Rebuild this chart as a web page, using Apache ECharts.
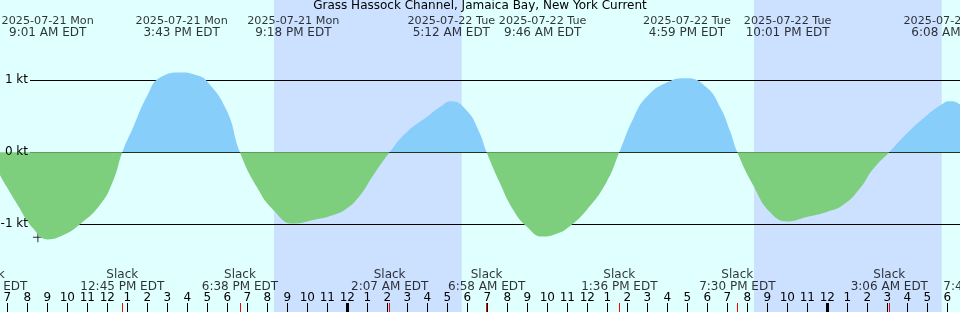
<!DOCTYPE html>
<html><head><meta charset="utf-8">
<script src="https://cdn.jsdelivr.net/npm/echarts@6/dist/echarts.min.js"></script>
<style>html,body{margin:0;padding:0;background:#e0ffff;}#c{width:960px;height:312px;}</style>
</head><body><div id="c"></div>
<script>
// Time in hours since 2025-07-21 00:00 EDT; current in knots (+ flood, - ebb)
const curveHours = [6.07, 6.64, 6.97, 7.47, 8.30, 9.017, 9.80, 10.635, 11.635, 12.30, 12.75, 13.30, 13.97, 14.635, 15.717, 16.47, 16.97, 17.97, 18.633, 19.47, 20.30, 21.30, 22.30, 23.30, 23.97, 24.635, 25.30, 26.117, 26.97, 27.97, 28.635, 29.20, 29.97, 30.60, 30.967, 31.635, 32.30, 32.97, 33.767, 34.47, 34.97, 35.97, 36.97, 37.60, 38.30, 38.97, 39.97, 40.983, 41.97, 42.635, 43.135, 43.50, 44.30, 45.135, 46.017, 46.97, 47.97, 48.80, 49.635, 50.30, 51.10, 51.97, 52.97, 53.635, 54.133, 54.60, 55.20, 55.73];
const curveKnots = [0, -0.32, -0.48, -0.71, -1.06, -1.21, -1.15, -1.00, -0.73, -0.39, 0, 0.35, 0.77, 1.04, 1.11, 1.07, 0.99, 0.58, 0, -0.48, -0.80, -0.99, -0.94, -0.87, -0.78, -0.60, -0.32, 0, 0.28, 0.49, 0.63, 0.71, 0.58, 0.28, 0, -0.43, -0.80, -1.03, -1.17, -1.13, -1.06, -0.80, -0.41, 0, 0.47, 0.77, 0.97, 1.03, 0.90, 0.63, 0.30, 0, -0.46, -0.83, -0.96, -0.90, -0.83, -0.73, -0.50, -0.23, 0, 0.26, 0.51, 0.65, 0.71, 0.67, 0.50, 0];

const eventHours = [9.017, 15.717, 21.3, 29.2, 33.767, 40.983, 46.017, 54.133];
const eventDates = ['2025-07-21 Mon', '2025-07-21 Mon', '2025-07-21 Mon', '2025-07-22 Tue', '2025-07-22 Tue', '2025-07-22 Tue', '2025-07-22 Tue', '2025-07-23 Wed'];
const eventTimes = ['9:01 AM EDT', '3:43 PM EDT', '9:18 PM EDT', '5:12 AM EDT', '9:46 AM EDT', '4:59 PM EDT', '10:01 PM EDT', '6:08 AM EDT'];

const slackHours = [6.07, 12.75, 18.633, 26.117, 30.967, 37.6, 43.5, 51.1, 55.73];
const slackTimes = ['6:04 AM EDT', '12:45 PM EDT', '6:38 PM EDT', '2:07 AM EDT', '6:58 AM EDT', '1:36 PM EDT', '7:30 PM EDT', '3:06 AM EDT', '7:44 AM EDT'];

const nightStart = [20.335, 44.335];
const nightEnd = [29.72, 53.72];
const midnightHours = [24, 48];
const nowHour = [8.53];
const nowKnots = [-1.18];

const FONT = 'DejaVu Sans';
const HOUR_MIN = 6, HOUR_MAX = 55;
const G = {outerBoundsMode: 'none', containLabel: false};

const chart = echarts.init(document.getElementById('c'), null, {renderer: 'canvas'});
chart.setOption({
  animation: false,
  backgroundColor: '#e0ffff',
  title: {
    text: 'Grass Hassock Channel, Jamaica Bay, New York Current',
    left: 'center', top: 0, padding: 0,
    textStyle: {fontFamily: FONT, fontSize: 12, fontWeight: 'normal', color: '#000', lineHeight: 12}
  },
  grid: [
    Object.assign({left: -12.7, top: 0, width: 980, height: 312}, G),
    Object.assign({left: 30, right: 0, top: 80.3, height: 144}, G),
    Object.assign({left: -12.7, top: 303, width: 980, height: 9}, G),
    Object.assign({left: -12.7, top: 80.3, width: 980, height: 144}, G),
    Object.assign({left: 30, right: 0, top: 80.3, height: 144}, G)
  ],
  xAxis: [
    {gridIndex: 0, type: 'value', min: HOUR_MIN, max: HOUR_MAX, show: false},
    {gridIndex: 1, type: 'value', min: 0, max: 1, show: false},
    {gridIndex: 2, type: 'value', min: HOUR_MIN, max: HOUR_MAX, interval: 1, position: 'bottom',
      axisLine: {show: false}, splitLine: {show: false},
      axisTick: {show: true, inside: true, length: 9, lineStyle: {color: '#000', width: 1}},
      axisLabel: {show: true, inside: true, margin: 8, color: '#000', fontFamily: FONT, fontSize: 12,
        formatter: v => String((v % 12) || 12)}},
    {gridIndex: 3, type: 'value', min: HOUR_MIN, max: HOUR_MAX, show: false},
    {gridIndex: 4, type: 'value', min: 0, max: 1, show: false}
  ],
  yAxis: [
    {gridIndex: 0, type: 'value', min: 0, max: 312, inverse: true, show: false},
    {gridIndex: 1, type: 'value', min: -1, max: 1, interval: 1,
      axisLine: {show: false}, axisTick: {show: false}, axisLabel: {show: false},
      splitLine: {show: true, lineStyle: {color: '#000', width: 1}}},
    {gridIndex: 2, type: 'value', min: 0, max: 1, show: false},
    {gridIndex: 3, type: 'value', min: -1, max: 1, show: false},
    {gridIndex: 4, type: 'value', min: -1, max: 1, interval: 1, z: 10,
      axisLine: {show: false}, axisTick: {show: false}, splitLine: {show: false},
      axisLabel: {margin: 2, color: '#000', fontFamily: FONT, fontSize: 12, formatter: '{value} kt'}}
  ],
  visualMap: {
    type: 'piecewise', show: false, dimension: 1, seriesIndex: 1,
    pieces: [{gte: 0, lte: 5, color: '#87cefa'}, {gte: -5, lt: 0, color: '#7dcf7d'}]
  },
  series: [
    {type: 'line', xAxisIndex: 0, yAxisIndex: 0, data: [], silent: true,
      markArea: {silent: true, z: -1, itemStyle: {color: '#cce0ff'},
        data: nightStart.map((s, i) => [{xAxis: s}, {xAxis: nightEnd[i]}])}},
    {type: 'line', xAxisIndex: 3, yAxisIndex: 3, clip: false, smooth: 0.5, symbol: 'none', silent: true,
      lineStyle: {width: 0},
      areaStyle: {opacity: 1, origin: 0},
      data: curveHours.map((h, i) => [h, curveKnots[i]])},
    {type: 'scatter', xAxisIndex: 3, yAxisIndex: 3, clip: false, silent: true,
      symbol: 'path://M0,5L10,5M5,0L5,10', symbolSize: 10,
      itemStyle: {color: 'none', borderColor: '#000', borderWidth: 1},
      data: nowHour.map((h, i) => [h, nowKnots[i]])},
    {type: 'scatter', xAxisIndex: 0, yAxisIndex: 0, clip: false, silent: true, symbolSize: 0,
      label: {show: true, position: 'inside', color: '#000', fontFamily: FONT,
        rich: {d: {fontSize: 11.2, lineHeight: 12, fontFamily: FONT, color: '#000'},
               t: {fontSize: 12, lineHeight: 12, fontFamily: FONT, color: '#000'}},
        formatter: p => '{d|' + eventDates[p.dataIndex] + '}\n{t|' + eventTimes[p.dataIndex] + '}'},
      data: eventHours.map(h => [h, 27])},
    {type: 'scatter', xAxisIndex: 0, yAxisIndex: 0, clip: false, silent: true, symbolSize: 0,
      label: {show: true, position: 'inside', color: '#000', fontFamily: FONT, fontSize: 12, lineHeight: 12,
        formatter: p => 'Slack\n' + slackTimes[p.dataIndex]},
      data: slackHours.map(h => [h, 281.2])},
    {type: 'line', xAxisIndex: 2, yAxisIndex: 2, data: [], silent: true,
      markLine: {silent: true, symbol: ['none', 'none'], label: {show: false},
        lineStyle: {color: '#000', width: 3, type: 'solid'},
        data: midnightHours.map(h => ({xAxis: h}))}},
    {type: 'line', xAxisIndex: 2, yAxisIndex: 2, data: [], silent: true,
      markLine: {silent: true, symbol: ['none', 'none'], label: {show: false},
        lineStyle: {color: '#ff0000', width: 1, type: 'solid'},
        data: slackHours.map(h => ({xAxis: h}))}}
  ]
});
</script></body></html>
